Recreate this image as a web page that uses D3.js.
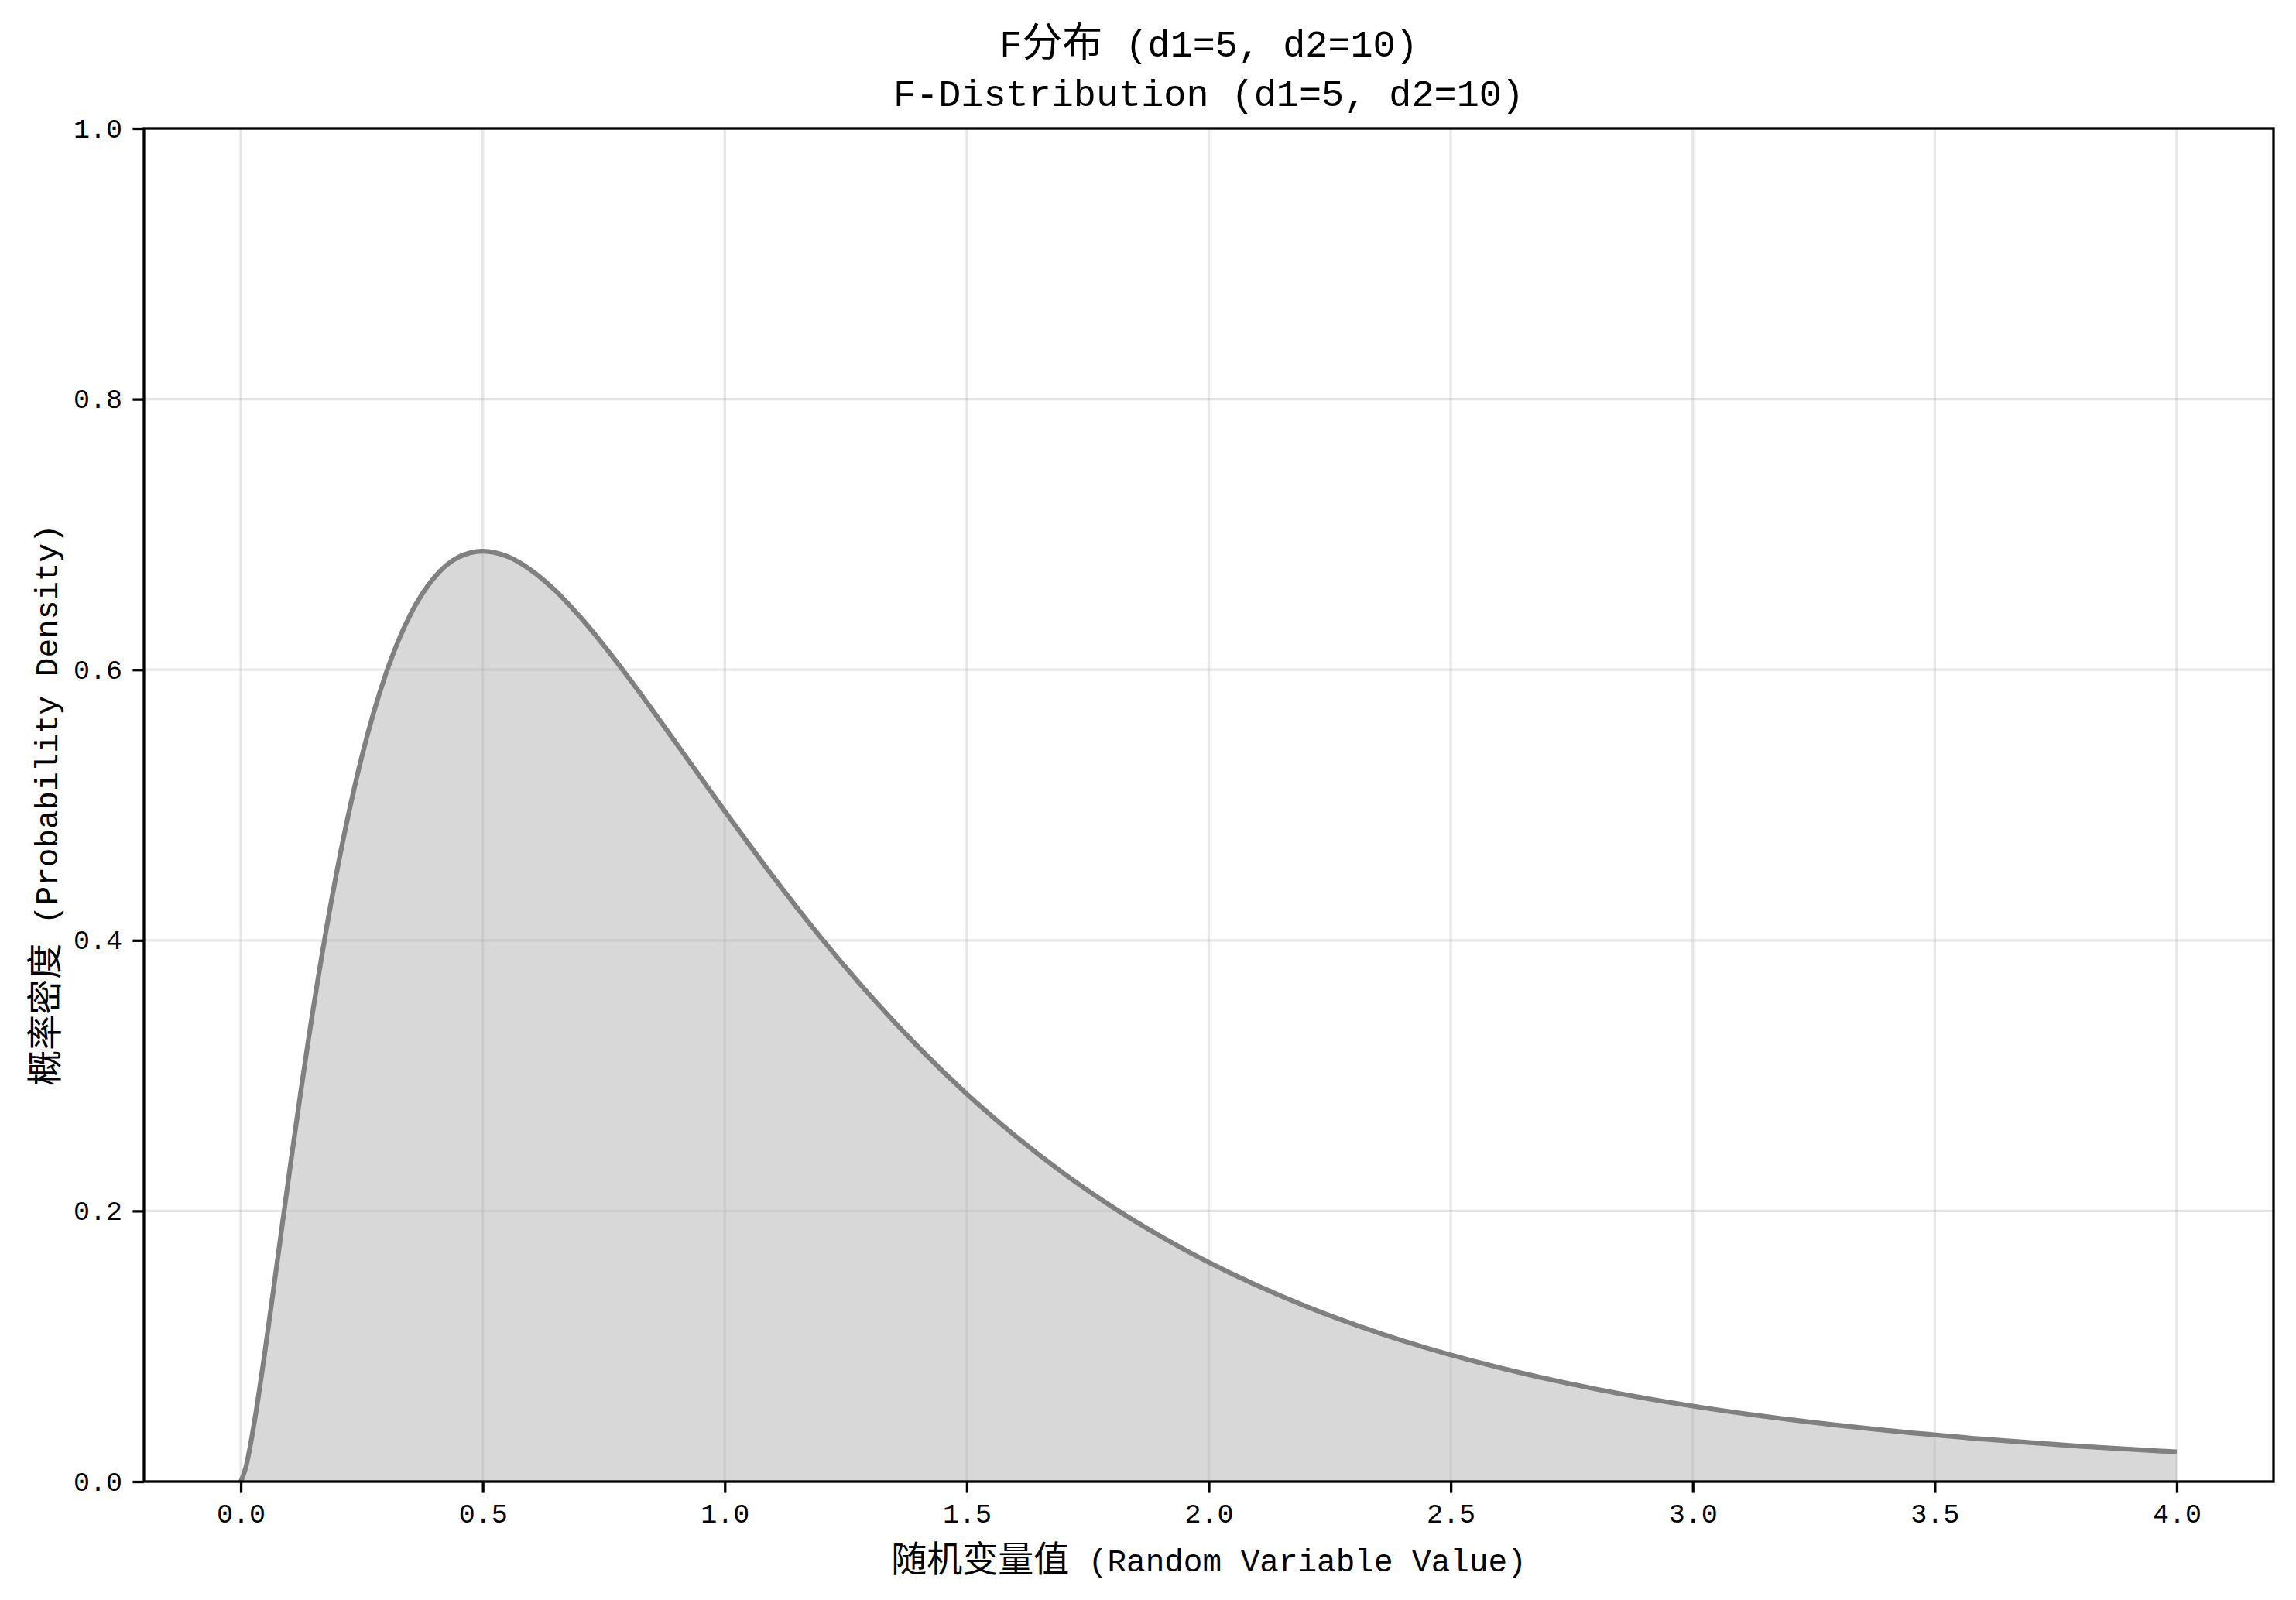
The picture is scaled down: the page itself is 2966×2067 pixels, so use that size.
<!DOCTYPE html>
<html>
<head>
<meta charset="utf-8">
<script src="https://cdn.jsdelivr.net/npm/d3@7"></script>
<style>
  html, body { margin: 0; padding: 0; background: #ffffff; }
  svg { display: block; }
</style>
</head>
<body>
<div id="chart"></div>
<script>
// ---------- data ----------
const xValues = [0, 0.01, 0.02, 0.03, 0.05, 0.075, 0.1, 0.15, 0.2, 0.25, 0.3, 0.35, 0.4, 0.45, 0.5,
  0.55, 0.6, 0.65, 0.7, 0.8, 0.9, 1.0, 1.1, 1.2, 1.3, 1.4, 1.5, 1.6, 1.7, 1.8, 1.9, 2.0,
  2.2, 2.4, 2.6, 2.8, 3.0, 3.2, 3.4, 3.6, 3.8, 4.0];
const densityValues = [0, 0.0100, 0.0272, 0.0482, 0.0963, 0.1616, 0.2274, 0.3502, 0.4537, 0.5357, 0.5972, 0.6405, 0.6682, 0.6832, 0.6876,
  0.6838, 0.6735, 0.6584, 0.6395, 0.5948, 0.5455, 0.4955, 0.4470, 0.4014, 0.3594, 0.3211, 0.2865, 0.2555, 0.2278, 0.2032, 0.1814, 0.1620,
  0.1296, 0.1042, 0.0842, 0.0684, 0.0558, 0.0458, 0.0378, 0.0314, 0.0261, 0.0219];
const xTicks = [0, 0.5, 1.0, 1.5, 2.0, 2.5, 3.0, 3.5, 4.0];
const yTicks = [0, 0.2, 0.4, 0.6, 0.8, 1.0];
const xDomain = [-0.2, 4.2];
const yDomain = [0, 1];
const titleLines = ["F分布 (d1=5, d2=10)", "F-Distribution (d1=5, d2=10)"];
const xLabel = "随机变量值 (Random Variable Value)";
const yLabel = "概率密度 (Probability Density)";

(function () {
// ---------- layout ----------
const W = 2966, H = 2067;
const pLeft = 186, pRight = 2937, pTop = 166, pBottom = 1914;
const LATIN = "'Liberation Mono', 'DejaVu Sans Mono', monospace";
const CJK = "'Noto Sans CJK SC', 'Noto Sans CJK JP', sans-serif";

const svg = d3.select("#chart").append("svg")
  .attr("width", W).attr("height", H)
  .attr("viewBox", `0 0 ${W} ${H}`);
svg.append("rect").attr("width", W).attr("height", H).attr("fill", "#ffffff");

const x = d3.scaleLinear().domain(xDomain).range([pLeft, pRight]);
const y = d3.scaleLinear().domain(yDomain).range([pBottom, pTop]);

const pts = xValues.map((v, i) => ({ x: v, y: densityValues[i] }));

// fill
const area = d3.area()
  .x(d => x(d.x)).y0(y(0)).y1(d => y(d.y))
  .curve(d3.curveMonotoneX);
svg.append("path").datum(pts)
  .attr("d", area)
  .attr("fill", "#808080").attr("fill-opacity", 0.31);

// grid
const grid = svg.append("g").attr("stroke", "#b0b0b0").attr("stroke-opacity", 0.3).attr("stroke-width", 3.3);
grid.selectAll("line.v").data(xTicks).enter().append("line")
  .attr("x1", d => x(d)).attr("x2", d => x(d)).attr("y1", pTop).attr("y2", pBottom);
grid.selectAll("line.h").data(yTicks).enter().append("line")
  .attr("x1", pLeft).attr("x2", pRight).attr("y1", d => y(d)).attr("y2", d => y(d));

// curve
const line = d3.line().x(d => x(d.x)).y(d => y(d.y)).curve(d3.curveMonotoneX);
svg.append("path").datum(pts)
  .attr("d", line)
  .attr("fill", "none")
  .attr("stroke", "#808080")
  .attr("stroke-width", 6.2)
  .attr("stroke-linejoin", "round")
  .attr("stroke-linecap", "butt");

// axes
const xAxis = svg.append("g").attr("transform", `translate(0,${pBottom})`)
  .call(d3.axisBottom(x).tickValues(xTicks).tickSize(14.6).tickFormat(d3.format(".1f")));
const yAxis = svg.append("g").attr("transform", `translate(${pLeft},0)`)
  .call(d3.axisLeft(y).tickValues(yTicks).tickSize(14.6).tickFormat(d3.format(".1f")));
[xAxis, yAxis].forEach(a => {
  a.select(".domain").remove();
  a.selectAll(".tick line").attr("stroke", "#000").attr("stroke-width", 3.3);
  a.selectAll(".tick text")
    .attr("fill", "#000")
    .style("font-family", LATIN)
    .style("font-size", "35px");
});
xAxis.selectAll(".tick text").attr("y", 53).attr("dy", 0);
yAxis.selectAll(".tick text").attr("x", -28).attr("dy", 11).attr("text-anchor", "end");

// spines
svg.append("rect")
  .attr("x", pLeft).attr("y", pTop)
  .attr("width", pRight - pLeft).attr("height", pBottom - pTop)
  .attr("fill", "none").attr("stroke", "#000").attr("stroke-width", 3.3);

// mixed-script text helper
function richText(g, str, latinSize, cjkSize) {
  const runs = [];
  const re = /[\u3000-\u9fff\uff00-\uffef]+|[^\u3000-\u9fff\uff00-\uffef]+/g;
  let m;
  while ((m = re.exec(str)) !== null) runs.push(m[0]);
  runs.forEach(r => {
    const isCjk = /[\u3000-\u9fff\uff00-\uffef]/.test(r);
    g.append("tspan")
      .style("font-family", isCjk ? CJK : LATIN)
      .style("font-size", (isCjk ? cjkSize : latinSize) + "px")
      .text(r);
  });
  return g;
}

const cx = (pLeft + pRight) / 2;
// title
titleLines.forEach((t, i) => {
  const tx = svg.append("text")
    .attr("x", cx).attr("y", i === 0 ? 73 : 137)
    .attr("text-anchor", "middle").attr("fill", "#000")
    .style("white-space", "pre");
  richText(tx, t, 48.5, 52);
});

// x label
const xl = svg.append("text")
  .attr("x", cx).attr("y", 2030)
  .attr("text-anchor", "middle").attr("fill", "#000")
  .style("white-space", "pre");
richText(xl, "随机变量值", 41, 46);
xl.append("tspan").style("font-family", LATIN).style("font-size", "41px").text("  (Random Variable Value)".slice(1));

// y label
const yl = svg.append("text")
  .attr("transform", `translate(74,${(pTop + pBottom) / 2}) rotate(-90)`)
  .attr("text-anchor", "middle").attr("fill", "#000")
  .style("white-space", "pre");
richText(yl, yLabel, 41, 46);
})();
</script>
</body>
</html>
